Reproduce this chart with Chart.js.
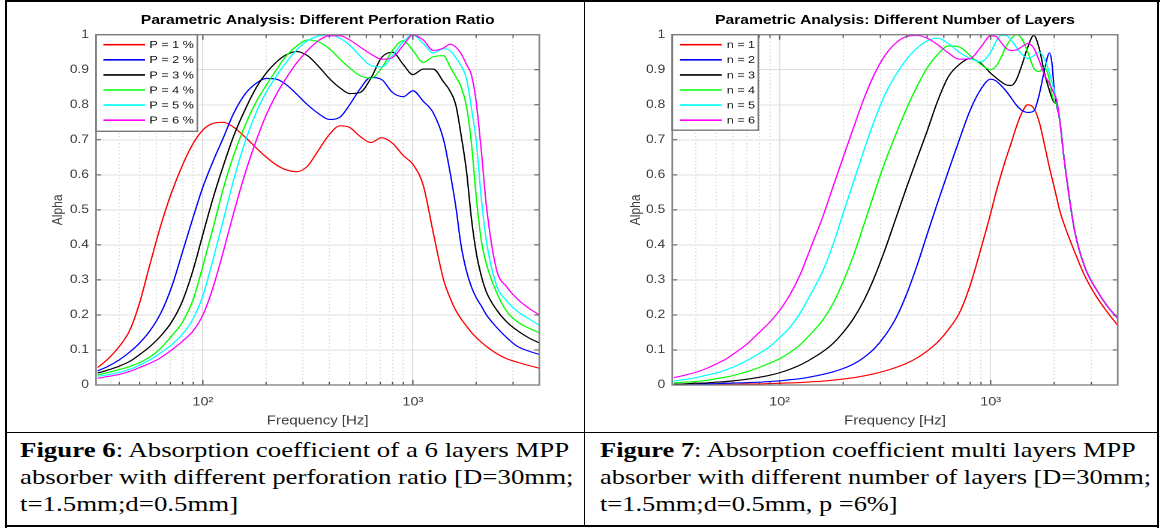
<!DOCTYPE html>
<html><head><meta charset="utf-8">
<script src="https://cdn.jsdelivr.net/npm/chart.js@4.4.1/dist/chart.umd.min.js"></script>
<style>
html,body{margin:0;padding:0;background:#fff;}
body{width:1161px;height:530px;position:relative;overflow:hidden;}
.ln{position:absolute;background:#000;}
.cbox{position:absolute;top:0;height:432px;transform-origin:0 0;}
.cap{position:absolute;top:436px;font-family:"Liberation Serif","Times New Roman",serif;font-size:22px;line-height:27px;color:#000;white-space:nowrap;transform-origin:0 0;}
</style></head><body>
<div class="ln" style="left:5px;top:0;width:1155px;height:2px"></div>
<div class="ln" style="left:5px;top:0;width:2px;height:528px"></div>
<div class="ln" style="left:1157px;top:0;width:2px;height:528px"></div>
<div class="ln" style="left:5px;top:525px;width:1154px;height:2px"></div>
<div class="ln" style="left:584px;top:0;width:1px;height:527px"></div>
<div class="ln" style="left:5px;top:432px;width:1154px;height:1px"></div>

<div class="cbox" id="box1" style="left:7px;width:481px;"><canvas id="c1"></canvas></div>
<div class="cbox" id="box2" style="left:586px;width:476px;"><canvas id="c2"></canvas></div>

<div class="cap" id="cap1" style="left:20px;"><b>Figure 6</b>: Absorption coefficient of a 6 layers MPP<br>absorber with different perforation ratio [D=30mm;<br>t=1.5mm;d=0.5mm]</div>
<div class="cap" id="cap2" style="left:600px;"><b>Figure 7</b>: Absorption coefficient multi layers MPP<br>absorber with different number of layers [D=30mm;<br>t=1.5mm;d=0.5mm, p =6%]</div>

<script>
// ---------- data ----------
const freqA = [31.5,35,40,45,50,56,63,71,80,90,100,112,125,140,160,180,200,224,250,280,315,355,400,450,500,560,630,710,800,900,1000,1120,1250,1400,1500,1600,1700,1800,1900,2000,2120,2240,2500,2800,3150,3550,4000];
const p1 = [0.05,0.072,0.11,0.158,0.235,0.345,0.455,0.55,0.628,0.69,0.728,0.747,0.75,0.736,0.706,0.676,0.651,0.628,0.614,0.609,0.625,0.67,0.715,0.74,0.735,0.71,0.692,0.706,0.69,0.655,0.63,0.57,0.435,0.30,0.25,0.213,0.188,0.168,0.15,0.136,0.122,0.11,0.09,0.075,0.065,0.056,0.048];
const p2 = [0.04,0.052,0.072,0.095,0.12,0.155,0.205,0.28,0.38,0.48,0.565,0.64,0.705,0.775,0.833,0.862,0.875,0.873,0.857,0.83,0.80,0.775,0.758,0.765,0.80,0.845,0.878,0.872,0.835,0.823,0.84,0.81,0.777,0.70,0.61,0.51,0.395,0.325,0.28,0.25,0.225,0.20,0.165,0.135,0.11,0.097,0.087];
const p3 = [0.034,0.042,0.054,0.068,0.087,0.11,0.14,0.18,0.24,0.33,0.43,0.535,0.625,0.71,0.79,0.85,0.89,0.922,0.943,0.952,0.94,0.91,0.875,0.848,0.832,0.835,0.875,0.935,0.95,0.915,0.886,0.902,0.902,0.865,0.84,0.80,0.71,0.61,0.475,0.38,0.31,0.265,0.215,0.18,0.155,0.135,0.12];
const p4 = [0.029,0.035,0.044,0.053,0.064,0.08,0.105,0.14,0.18,0.245,0.34,0.45,0.56,0.655,0.745,0.81,0.855,0.90,0.94,0.968,0.985,0.98,0.96,0.93,0.905,0.883,0.876,0.905,0.955,0.983,0.955,0.921,0.937,0.94,0.91,0.88,0.85,0.795,0.69,0.54,0.41,0.345,0.265,0.21,0.18,0.163,0.149];
const p5 = [0.025,0.029,0.036,0.045,0.057,0.072,0.092,0.115,0.145,0.19,0.255,0.36,0.47,0.585,0.70,0.78,0.835,0.882,0.922,0.957,0.983,0.996,0.999,0.99,0.97,0.94,0.912,0.908,0.94,0.98,0.999,0.975,0.948,0.96,0.955,0.935,0.91,0.875,0.79,0.70,0.53,0.41,0.285,0.24,0.21,0.19,0.17];
const p6 = [0.019,0.024,0.03,0.039,0.05,0.062,0.078,0.10,0.125,0.155,0.20,0.28,0.38,0.49,0.61,0.70,0.77,0.83,0.877,0.92,0.955,0.983,0.997,0.997,0.985,0.965,0.945,0.93,0.935,0.97,0.999,0.985,0.955,0.962,0.973,0.965,0.945,0.915,0.885,0.81,0.665,0.51,0.33,0.28,0.245,0.22,0.2];

const freqB = [31.5,35,40,45,50,56,63,71,80,90,100,112,125,140,160,180,200,224,250,280,315,355,400,450,500,560,630,710,800,900,1000,1060,1120,1180,1250,1320,1400,1500,1600,1700,1800,1900,1950,2000,2060,2120,2240,2500,2800,3150,3550,4000];
const n1 = [0.001,0.001,0.001,0.001,0.002,0.002,0.002,0.003,0.003,0.004,0.005,0.006,0.007,0.009,0.011,0.014,0.017,0.021,0.026,0.032,0.04,0.05,0.062,0.078,0.097,0.122,0.158,0.205,0.285,0.39,0.49,0.55,0.60,0.645,0.69,0.735,0.775,0.80,0.79,0.75,0.685,0.62,0.592,0.565,0.532,0.50,0.455,0.38,0.31,0.255,0.21,0.17];
const n2 = [0.002,0.002,0.003,0.003,0.004,0.005,0.006,0.007,0.008,0.01,0.012,0.015,0.018,0.023,0.03,0.038,0.047,0.06,0.078,0.103,0.14,0.19,0.26,0.345,0.43,0.52,0.61,0.70,0.785,0.845,0.873,0.868,0.855,0.84,0.82,0.80,0.785,0.778,0.782,0.83,0.90,0.948,0.92,0.845,0.795,0.76,0.635,0.44,0.335,0.275,0.227,0.19];
const n3 = [0.002,0.003,0.005,0.006,0.008,0.01,0.013,0.017,0.022,0.028,0.035,0.045,0.057,0.073,0.095,0.12,0.15,0.19,0.24,0.305,0.385,0.475,0.565,0.65,0.725,0.81,0.88,0.915,0.932,0.918,0.89,0.877,0.866,0.857,0.855,0.87,0.91,0.965,0.998,0.96,0.89,0.84,0.82,0.807,0.80,0.76,0.635,0.44,0.335,0.275,0.227,0.19];
const n4 = [0.006,0.008,0.01,0.013,0.018,0.023,0.03,0.039,0.05,0.063,0.075,0.093,0.115,0.145,0.185,0.235,0.295,0.37,0.455,0.545,0.635,0.715,0.79,0.855,0.905,0.943,0.968,0.965,0.94,0.915,0.90,0.91,0.935,0.965,0.988,1.0,0.99,0.95,0.905,0.895,0.907,0.87,0.83,0.81,0.80,0.76,0.635,0.44,0.335,0.275,0.227,0.19];
const n5 = [0.011,0.015,0.021,0.028,0.034,0.044,0.056,0.072,0.09,0.11,0.135,0.165,0.205,0.258,0.325,0.405,0.49,0.58,0.667,0.752,0.828,0.885,0.93,0.963,0.982,0.99,0.975,0.95,0.932,0.923,0.95,0.98,0.998,0.998,0.985,0.965,0.945,0.932,0.94,0.95,0.93,0.89,0.865,0.84,0.81,0.76,0.635,0.44,0.335,0.275,0.227,0.19];
const n6 = [0.021,0.027,0.036,0.047,0.06,0.075,0.096,0.12,0.15,0.18,0.213,0.258,0.315,0.39,0.48,0.57,0.65,0.735,0.815,0.885,0.94,0.976,0.995,0.998,0.99,0.972,0.948,0.93,0.932,0.965,0.997,0.995,0.978,0.962,0.955,0.956,0.965,0.975,0.962,0.925,0.885,0.86,0.845,0.83,0.81,0.76,0.635,0.44,0.335,0.275,0.227,0.19];

const labelsA = ['P = 1 %','P = 2 %','P = 3 %','P = 4 %','P = 5 %','P = 6 %'];
const labelsB = ['n = 1','n = 2','n = 3','n = 4','n = 5','n = 6'];
const colors = ['#ff0000','#0000ff','#000000','#00ff00','#00ffff','#ff00ff'];

const xTickValues = [40,50,60,70,80,90,100,200,300,400,500,600,700,800,900,1000,2000,3000];
const xMajorValues = [100,1000];
const xMajorLabels = ['10\u00B2','10\u00B3'];
const yTickValues = [0,0.1,0.2,0.3,0.4,0.5,0.6,0.7,0.8,0.9,1];
const yTickLabels = ['0','0.1','0.2','0.3','0.4','0.5','0.6','0.7','0.8','0.9','1'];

// ---------- styling / layout ----------
const S = 1.2;   // horizontal stretch of the reference
const FONT = '"Liberation Sans", Arial, Helvetica, sans-serif';
document.getElementById('box1').style.transform = 'scaleX(' + S + ')';
document.getElementById('box2').style.transform = 'scaleX(' + S + ')';
document.getElementById('cap1').style.transform = 'scaleX(1.22)';
document.getElementById('cap2').style.transform = 'scaleX(1.2)';

const framePlugin = {
  id: 'frame',
  afterDatasetsDraw(chart) {
    const {ctx, chartArea: a, scales: {x, y}} = chart;
    ctx.save();
    ctx.strokeStyle = '#4d4d4d';
    ctx.lineWidth = 1;
    ctx.beginPath();
    xTickValues.forEach(v => {
      const px = x.getPixelForValue(v);
      const len = xMajorValues.includes(v) ? 5 : 3;
      ctx.moveTo(px, a.bottom); ctx.lineTo(px, a.bottom - len);
      ctx.moveTo(px, a.top); ctx.lineTo(px, a.top + len);
    });
    yTickValues.forEach(v => {
      const py = y.getPixelForValue(v);
      ctx.moveTo(a.left, py); ctx.lineTo(a.left + 4.2, py);
      ctx.moveTo(a.right, py); ctx.lineTo(a.right - 4.2, py);
    });
    ctx.stroke();
    ctx.strokeStyle = '#858585';
    ctx.lineWidth = 1.4;
    ctx.strokeRect(a.left, a.top, a.right - a.left, a.bottom - a.top);
    ctx.restore();
  },
  afterDraw(chart, args, o) {
    const {ctx, chartArea: a} = chart;
    ctx.save();
    ctx.fillStyle = '#fff';
    ctx.fillRect(a.left, a.top, o.w, o.h);
    ctx.strokeStyle = '#7a7a7a';
    ctx.lineWidth = 1.4;
    ctx.strokeRect(a.left, a.top, o.w, o.h);
    ctx.font = '10.5px ' + FONT;
    ctx.textBaseline = 'middle';
    ctx.textAlign = 'left';
    chart.data.datasets.forEach((ds, i) => {
      const yy = a.top + 10 + 15.1 * i;
      ctx.strokeStyle = ds.borderColor;
      ctx.lineWidth = 1.6;
      ctx.beginPath(); ctx.moveTo(a.left + o.x0, yy); ctx.lineTo(a.left + o.x1, yy); ctx.stroke();
      ctx.fillStyle = '#111';
      ctx.fillText(ds.label, a.left + o.tx, yy + 0.5);
    });
    ctx.restore();
  }
};

function build(canvasId, W, title, freqs, series, labels, lay) {
  const cv = document.getElementById(canvasId);
  cv.width = W; cv.height = 432;
  cv.style.width = W + 'px'; cv.style.height = '432px';
  const datasets = series.map((vals, i) => ({
    label: labels[i],
    data: freqs.map((f, k) => ({x: f, y: vals[k]})),
    borderColor: colors[i],
    borderWidth: 1.15,
    pointRadius: 0,
    fill: false,
    cubicInterpolationMode: 'monotone',
    order: 6 - i
  }));
  return new Chart(cv, {
    type: 'line',
    data: {datasets},
    plugins: [framePlugin],
    options: {
      responsive: false,
      devicePixelRatio: 2,
      animation: false,
      events: [],
      layout: {padding: {left: lay.pl, right: lay.pr, top: 8, bottom: 2}},
      plugins: {
        legend: {display: false},
        tooltip: {enabled: false},
        title: {
          display: true, text: title, fullSize: false,
          color: '#000',
          font: {family: FONT, size: 13, weight: 'bold', lineHeight: 1.2},
          padding: {top: 4.7, bottom: 6.4}
        },
        frame: lay.legend
      },
      scales: {
        x: {
          type: 'logarithmic', min: 31, max: 4000,
          afterBuildTicks: s => { s.ticks = xTickValues.map(v => ({value: v})); },
          afterFit: s => { s.height = 45; },
          ticks: {
            autoSkip: false, maxRotation: 0, minRotation: 0, padding: 10,
            color: '#3c3c3c', font: {family: FONT, size: 12},
            callback: v => { const k = xMajorValues.indexOf(v); return k >= 0 ? xMajorLabels[k] : ''; }
          },
          grid: {
            drawTicks: false, lineWidth: 1,
            color: c => (c.tick && xMajorValues.includes(c.tick.value)) ? '#dedede' : '#cdcdcd'
          },
          border: {
            display: false,
            dash: c => (c.tick && !xMajorValues.includes(c.tick.value)) ? [1, 2.5] : []
          },
          title: {
            display: true, text: 'Frequency [Hz]', color: '#3c3c3c',
            font: {family: FONT, size: 12.5, lineHeight: 1.2},
            padding: {top: 2, bottom: 1.5}
          }
        },
        y: {
          min: 0, max: 1,
          afterBuildTicks: s => { s.ticks = yTickValues.map(v => ({value: v})); },
          afterFit: s => { s.width = lay.yw; },
          ticks: {
            padding: 5.9, color: '#3c3c3c', font: {family: FONT, size: 11.5},
            callback: v => { const k = yTickValues.findIndex(t => Math.abs(t - v) < 1e-6); return k >= 0 ? yTickLabels[k] : ''; }
          },
          grid: {drawTicks: false, lineWidth: 1, color: '#dedede'},
          border: {display: false},
          title: {
            display: true, text: 'Alpha', color: '#3c3c3c',
            font: {family: FONT, size: 12, lineHeight: 1.2},
            padding: {top: lay.ytp, bottom: 0}
          }
        }
      }
    }
  });
}

build('c1', 481, 'Parametric Analysis: Different Perforation Ratio', freqA,
  [p1, p2, p3, p4, p5, p6], labelsA,
  {pl: 30, pr: 37.4, yw: 44.2, ytp: 5.3, legend: {w: 84.4, h: 96.6, x0: 6.1, x1: 40.8, tx: 44.4}});
build('c2', 476, 'Parametric Analysis: Different Number of Layers', freqB,
  [n1, n2, n3, n4, n5, n6], labelsB,
  {pl: 30, pr: 32.9, yw: 41.9, ytp: 4.5, legend: {w: 71.7, h: 95.5, x0: 6.4, x1: 41.2, tx: 45.3}});
</script>
</body></html>
